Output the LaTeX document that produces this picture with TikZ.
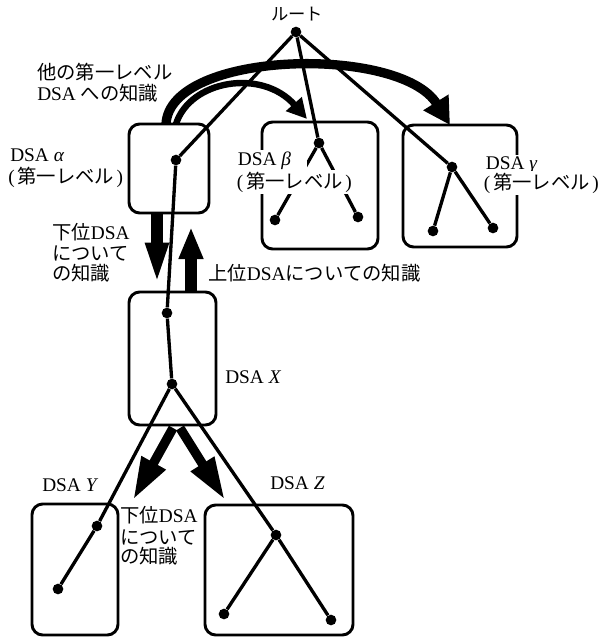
\documentclass[tikz,border=0pt]{standalone}
\usepackage{fontspec}
\setmainfont{Liberation Serif}
\newfontfamily\jp{Noto Sans CJK JP}
\usetikzlibrary{arrows.meta,fit}
\newcommand{\jtxt}[1]{{\jp #1}}
\begin{document}
\begin{tikzpicture}[x=0.75pt,y=-0.75pt,
  box/.style={draw, line width=2.2pt, rounded corners=8pt, inner sep=0pt},
  dot/.style={circle, fill, inner sep=0pt, minimum size=8pt},
  tree/.style={line width=2.5pt},
  lbl/.style={anchor=west, inner sep=0pt, font=\fontsize{14.5}{16}\selectfont},
  wlbl/.style={lbl, fill=white, inner xsep=2pt, inner ysep=1.5pt},
  fat/.style={line width=#1}
]
\useasboundingbox (0,0) rectangle (605,639);

% boxes
\node[box, fit={(129,124) (209,213)}] (boxA) {};
\node[box, fit={(262,122) (378,249)}] (boxB) {};
\node[box, fit={(403,125) (517,247)}] (boxG) {};
\node[box, fit={(129,292) (216,425)}] (boxX) {};
\node[box, fit={(32,504) (118,635)}] (boxY) {};
\node[box, fit={(205,505) (353,635)}] (boxZ) {};

% dots
\node[dot] (root) at (296,32) {};
\node[dot] (a)  at (176,160) {};
\node[dot] (b)  at (319,143) {};
\node[dot] (bl) at (275,220) {};
\node[dot] (br) at (358,217) {};
\node[dot] (g)  at (452,167) {};
\node[dot] (gl) at (433,231) {};
\node[dot] (gr) at (493,228) {};
\node[dot] (x1) at (167,313) {};
\node[dot] (x2) at (172,384) {};
\node[dot] (y1) at (97,526) {};
\node[dot] (y2) at (58,589) {};
\node[dot] (z)  at (276,535) {};
\node[dot] (zl) at (224,614) {};
\node[dot] (zr) at (331,620) {};

% tree lines
\draw[tree] (root) -- (a);
\draw[tree] (root) -- (b);
\draw[tree] (root) -- (g);
\draw[tree] (b) -- (bl);
\draw[tree] (b) -- (br);
\draw[tree] (g) -- (gl);
\draw[tree] (g) -- (gr);
\draw[tree] (a) -- (x1);
\draw[tree] (x1) -- (x2);
\draw[tree] (x2) -- (y1);
\draw[tree] (y1) -- (y2);
\draw[tree] (x2) -- (z);
\draw[tree] (z) -- (zr);
\draw[tree] (z) -- (zl);

% labels that cut lines / box edges
\node[wlbl] (lb1) at (235,161) {DSA \textit{β}\hspace*{10pt}};
\node[wlbl] (lb2) at (234,182) {(\hspace{2pt}\jtxt{第一レベル}\hspace{2pt})};
\node[wlbl] (lg1) at (483,165) {DSA \textit{γ}};
\node[wlbl] (lg2) at (481,183) {(\hspace{2pt}\jtxt{第一レベル}\hspace{2pt})};

% other labels
\node[lbl, anchor=center, font=\fontsize{13}{15}\selectfont] (lroot) at (297,14) {\jtxt{ルート}};
\node[lbl] (lk1) at (37,72) {\jtxt{他の第一レベル}};
\node[lbl] (lk2) at (37,93) {DSA \jtxt{への知識}};
\node[lbl] (la1) at (10,155) {DSA \textit{α}};
\node[lbl] (la2) at (8,177) {(\hspace{2pt}\jtxt{第一レベル}\hspace{2pt})};
\node[lbl] (ld1) at (52,232) {\jtxt{下位}DSA};
\node[lbl] (ld2) at (52,253) {\jtxt{について}};
\node[lbl] (ld3) at (52,273) {\jtxt{の知識}};
\node[lbl] (lu)  at (208,273) {\jtxt{上位}DSA\jtxt{についての知識}};
\node[lbl] (lx)  at (225,377) {DSA \textit{X}};
\node[lbl] (ly)  at (42,485) {DSA \textit{Y}};
\node[lbl] (lz)  at (270,483) {DSA \textit{Z}};
\node[lbl] (le1) at (120,515) {\jtxt{下位}DSA};
\node[lbl] (le2) at (120,537) {\jtxt{について}};
\node[lbl] (le3) at (120,556) {\jtxt{の知識}};

% knowledge arrows
\coordinate (c0) at (166,124);
\coordinate (c1) at (450,125);
\coordinate (c2) at (176,124);
\coordinate (c3) at (307,119);
\draw[fat=7pt, -{Triangle[length=20pt,width=21pt]}]
  (c0) .. controls (170,50) and (400,45) .. (c1);
\draw[fat=4.8pt, -{Triangle[length=15pt,width=15pt]}]
  (c2) .. controls (190,80) and (262,68) .. (c3);

\coordinate (d0) at (157,214);
\coordinate (d1) at (157,288);
\draw[fat=9pt, -{Triangle[length=34pt,width=15pt]}] (d0) -- (d1);
\coordinate (u0) at (191,291);
\coordinate (u1) at (191,227);
\draw[fat=9pt, -{Triangle[length=24pt,width=17pt]}] (u0) -- (u1);

\coordinate (e0) at (173,428);
\coordinate (e1) at (133,500);
\coordinate (f0) at (180,428);
\coordinate (f1) at (225,500);
\draw[fat=7pt, -{Triangle[length=32pt,width=19pt]}] (e0) -- (e1);
\draw[fat=7pt, -{Triangle[length=32pt,width=19pt]}] (f0) -- (f1);
\end{tikzpicture}
\end{document}
